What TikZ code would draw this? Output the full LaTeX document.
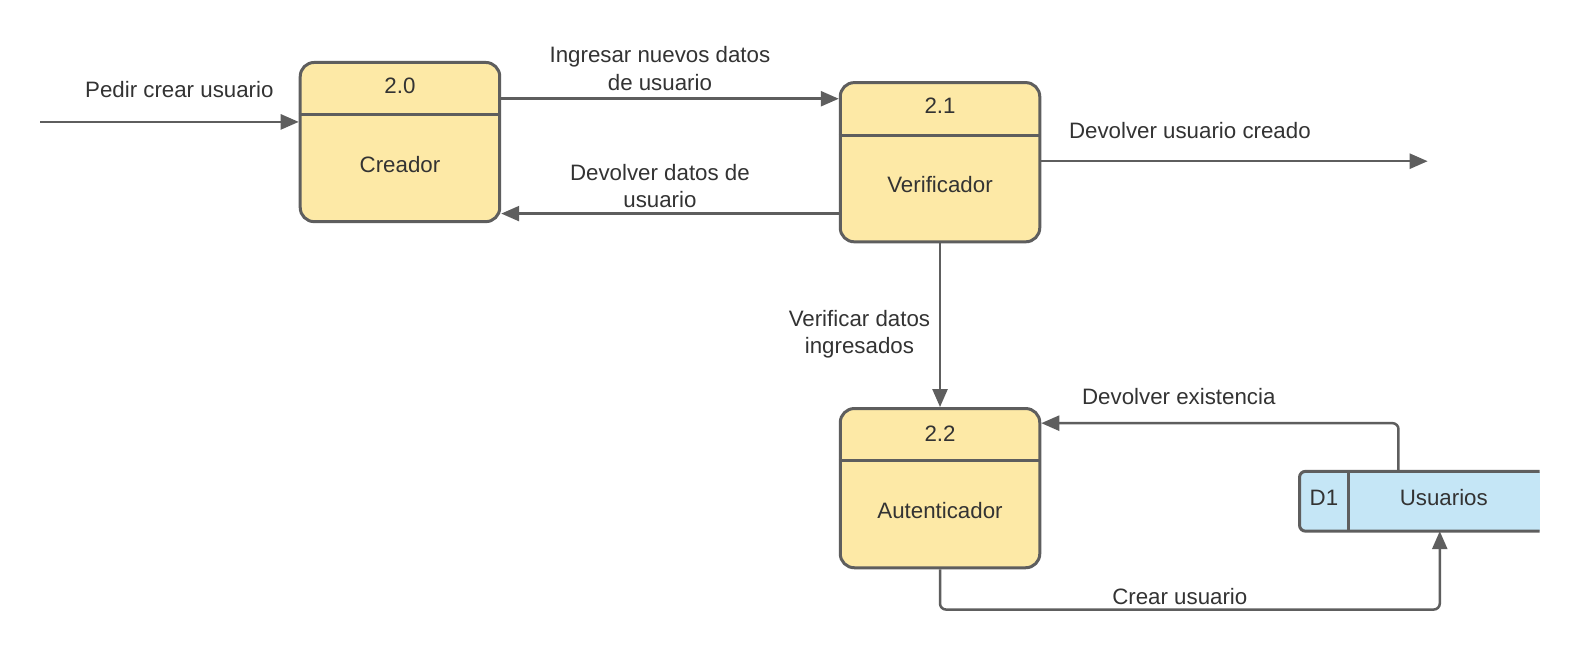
\documentclass[tikz,border=0pt]{standalone}
\usepackage{fontspec}
\setmainfont{Liberation Sans}
\usetikzlibrary{arrows.meta,calc}
\definecolor{procfill}{HTML}{FDE9A6}
\definecolor{storefill}{HTML}{C5E6F6}
\definecolor{edge}{HTML}{5E5E5E}
\definecolor{txt}{HTML}{333333}
\tikzset{
  proc/.style={draw=edge, fill=procfill, line width=3pt, rounded corners=14pt,
    minimum width=199.5pt, minimum height=159.2pt, inner sep=0pt},
  divider/.style={draw=edge, line width=3pt},
  lbl/.style={text=txt, font=\fontsize{22.3}{27.2}\selectfont, align=center, inner sep=0pt},
  arr/.style={draw=edge, line width=2.5pt, -{Triangle[length=18pt,width=15pt]}, rounded corners=6pt},
}
\begin{document}
\begin{tikzpicture}[x=1.0075pt,y=-1.0075pt]
\useasboundingbox (0,0) rectangle (1568.2,663);
\fill[white] (0,0) rectangle (1568.2,663);

% processes
\node[proc] (p20) at (397,141) {};
\node[proc] (p21) at (933,161) {};
\node[proc] (p22) at (933,484.5) {};
\draw[divider] (p20.west |- 0,114) -- (p20.east |- 0,114);
\draw[divider] (p21.west |- 0,134) -- (p21.east |- 0,134);
\draw[divider] (p22.west |- 0,457) -- (p22.east |- 0,457);
\node[lbl] (n20) at (397,85) {2.0};
\node[lbl] (t20) at (397,163) {Creador};
\node[lbl] (n21) at (933,105) {2.1};
\node[lbl] (t21) at (933,183) {Verificador};
\node[lbl] (n22) at (933,430) {2.2};
\node[lbl] (t22) at (933,507) {Autenticador};

% data store
\node[fill=storefill, minimum width=239.8pt, minimum height=59.4pt, inner sep=0pt, rounded corners=6pt] (d1) at (1409,497.5) {};
\fill[storefill] (1400,468) rectangle (1528,527);
\draw[edge, line width=3pt, rounded corners=6pt] (d1.north east) -- (d1.north west) -- (d1.south west) -- (d1.south east);
\draw[divider] (d1.north -| 1338,0) -- (d1.south -| 1338,0);
\node[lbl] (d1id) at (1314,494) {D1};
\node[lbl] (d1name) at (1433,494) {Usuarios};

% connectors
\coordinate (in) at (40,121);
\coordinate (out) at (1417,160);
\coordinate (ret) at (1388,420);
\coordinate (low) at (1429,605);

\draw[arr] (in) -- (in -| p20.west);
\draw[arr] (p20.east |- 0,98) -- (p21.west |- 0,98);
\draw[arr] (p21.west |- 0,212) -- (p20.east |- 0,212);
\draw[arr] (p21.east |- out) -- (out);
\draw[arr] (p21.south) -- (p22.north);
\draw[arr] (d1.north -| ret) |- (p22.east |- ret);
\draw[arr] (p22.south) |- (low) -- (d1.south -| low);

% labels
\node[lbl] (l1) at (178,89) {Pedir crear usuario};
\node[lbl] (l2) at (655,68) {Ingresar nuevos datos\\de usuario};
\node[lbl] (l3) at (655,185) {Devolver datos de\\usuario};
\node[lbl] (l4) at (1181,130) {Devolver usuario creado};
\node[lbl] (l5) at (853,332) {Verificar datos\\ingresados};
\node[lbl] (l6) at (1170,394) {Devolver existencia};
\node[lbl] (l7) at (1171,592) {Crear usuario};
\end{tikzpicture}
\end{document}
